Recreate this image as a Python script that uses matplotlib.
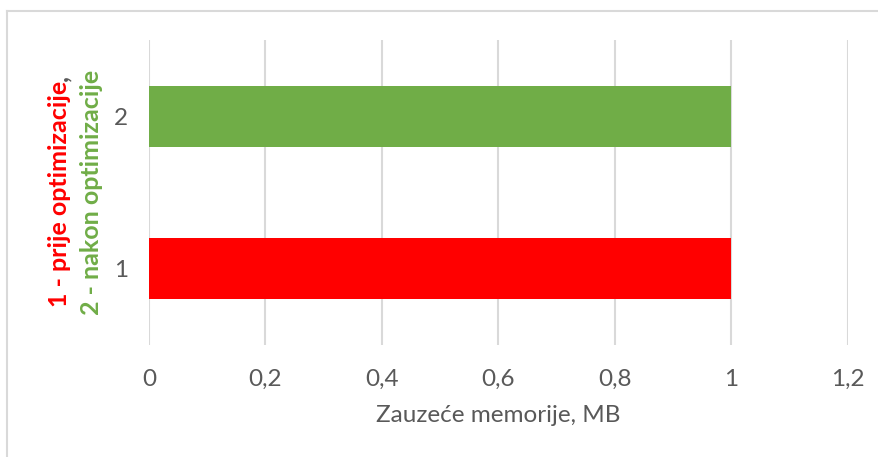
import matplotlib
matplotlib.use("Agg")
import matplotlib.pyplot as plt
from matplotlib.lines import Line2D

categories = ["1", "2"]
values = [1, 1]
bar_colors = ["#FF0000", "#70AD47"]
xticks = [0, 0.2, 0.4, 0.6, 0.8, 1.0, 1.2]
xtick_labels = ["0", "0,2", "0,4", "0,6", "0,8", "1", "1,2"]
xlabel = "Zauzeće memorije, MB"
ylabel_line1 = "1 - prije optimizacije"
ylabel_line2 = "2 - nakon optimizacije"

W, H = 879, 457
DPI = 100
FS = 17.5
FSB = 18
plt.rcParams['font.family'] = ['Lato', 'DejaVu Sans']
fig = plt.figure(figsize=(W / DPI, H / DPI), dpi=DPI)

def fx(px):
    return px / W

def fy(py):
    return 1 - py / H

left, right, top, bottom = 149, 848, 40, 345
ax = fig.add_axes([fx(left), fy(bottom), fx(right) - fx(left), (bottom - top) / H])

ypos = list(range(1, len(categories) + 1))
ax.barh(ypos, values, height=0.4, color=bar_colors, zorder=3)
ax.set_xlim(0, 1.2)
ax.set_ylim(0.5, 2.5)
ax.set_xticks(xticks)
ax.set_xticklabels(xtick_labels)
ax.set_yticks(ypos)
ax.set_yticklabels(categories)
ax.grid(axis='x', color='#D9D9D9', linewidth=1.5, zorder=0)
ax.grid(axis='y', visible=False)
for s in ax.spines.values():
    s.set_visible(False)
ax.tick_params(axis='both', length=0, labelsize=FS, colors='#595959')
ax.tick_params(axis='x', pad=17)
ax.tick_params(axis='y', pad=15)
ax.set_xlabel(xlabel, fontsize=FS, color='#595959', labelpad=11)

# y label (two lines, coloured)
red = fig.text(fx(67), fy(307), ylabel_line1, rotation=90, rotation_mode='anchor',
               ha='left', va='baseline', color='#FF0000', fontsize=FSB, fontweight='bold')
fig.canvas.draw()
bb = red.get_window_extent()
fig.text(fx(67), bb.y1 / H, ",", rotation=90, rotation_mode='anchor',
         ha='left', va='baseline', color='#595959', fontsize=FSB, fontweight='bold')
fig.text(fx(99), fy(192.5), ylabel_line2, rotation=90, rotation_mode='anchor',
         ha='center', va='baseline', color='#70AD47', fontsize=FSB, fontweight='bold')

# chart frame (top and left visible)
fig.add_artist(Line2D([fx(7), 1.0], [fy(11), fy(11)], color='#D9D9D9', linewidth=1.5))
fig.add_artist(Line2D([fx(7), fx(7)], [fy(11), 0.0], color='#D9D9D9', linewidth=1.5))

fig.savefig("out.png", dpi=DPI, facecolor='white')
